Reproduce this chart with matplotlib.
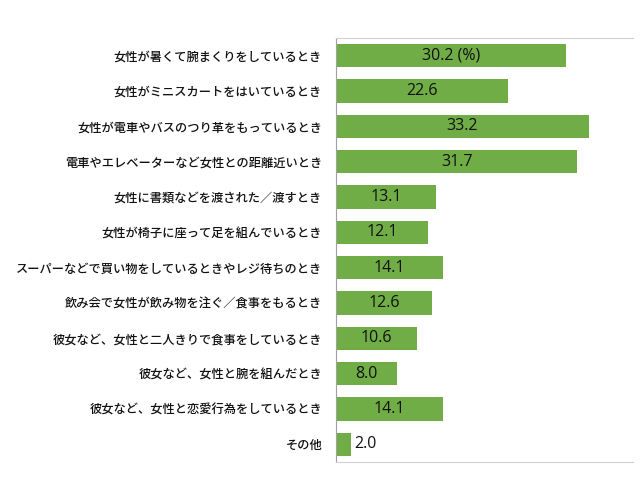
import matplotlib.pyplot as plt

plt.rcParams['font.family'] = ['Noto Sans CJK JP', 'DejaVu Sans']

# data, top to bottom as in the chart
labels = [
    "女性が暑くて腕まくりをしているとき",
    "女性がミニスカートをはいているとき",
    "女性が電車やバスのつり革をもっているとき",
    "電車やエレベーターなど女性との距離近いとき",
    "女性に書類などを渡された／渡すとき",
    "女性が椅子に座って足を組んでいるとき",
    "スーパーなどで買い物をしているときやレジ待ちのとき",
    "飲み会で女性が飲み物を注ぐ／食事をもるとき",
    "彼女など、女性と二人きりで食事をしているとき",
    "彼女など、女性と腕を組んだとき",
    "彼女など、女性と恋愛行為をしているとき",
    "その他",
]
values = [30.2, 22.6, 33.2, 31.7, 13.1, 12.1, 14.1, 12.6, 10.6, 8.0, 14.1, 2.0]
value_text = ["30.2 (%)"] + [f"{v:.1f}" for v in values[1:]]

fig = plt.figure(figsize=(6.4, 4.8), dpi=100)
ax = fig.add_axes([0.525, 0.0375, 0.464, 0.8835])

pos = list(range(len(values)))
bars = ax.barh(pos, values, height=0.66, color='#70ad47')

ax.set_xlim(0, 39)
ax.set_ylim(len(values) - 0.5, -0.5)
ax.set_yticks(pos)
ax.set_yticklabels(labels, fontsize=8.8, color='#111111', fontweight='medium')
ax.tick_params(axis='y', length=0, pad=10)
ax.set_xticks([])

for spine in ['top', 'bottom']:
    ax.spines[spine].set_color('#d0d0d0')
ax.spines['left'].set_color('#a0a0a0')
ax.spines['right'].set_visible(False)

for b, v, t in zip(bars, values, value_text):
    y = b.get_y() + b.get_height() / 2
    if v < 5:
        ax.text(v + 0.4, y, t, ha='left', va='center', fontsize=11.5,
                family='Open Sans', color='#111111')
    else:
        ax.text(v / 2, y, t, ha='center', va='center', fontsize=11.5,
                family='Open Sans', color='#111111')

fig.savefig('out.png', dpi=100)
